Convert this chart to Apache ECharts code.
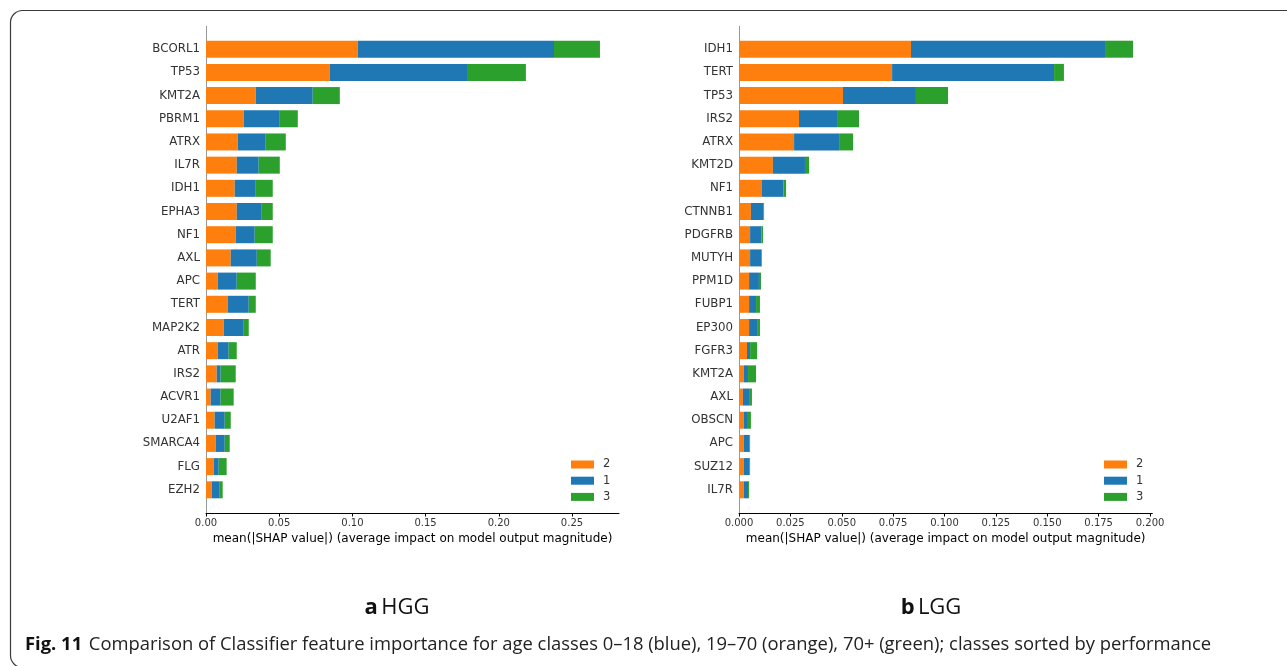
<!DOCTYPE html>
<html>
<head>
<meta charset="utf-8">
<script src="https://cdn.jsdelivr.net/npm/echarts@6/dist/echarts.min.js"></script>
<style>
html,body{margin:0;padding:0;background:#fff;}
#chart{width:1287px;height:666px;}
</style>
</head>
<body>
<div id="chart"></div>
<script>
// ---- HGG (panel a) ----
var hggGenes = ['BCORL1','TP53','KMT2A','PBRM1','ATRX','IL7R','IDH1','EPHA3','NF1','AXL','APC','TERT','MAP2K2','ATR','IRS2','ACVR1','U2AF1','SMARCA4','FLG','EZH2'];
var hggClass2 = [0.1037,0.0846,0.0340,0.0258,0.0217,0.0210,0.0196,0.0210,0.0203,0.0169,0.0080,0.0148,0.0121,0.0080,0.0073,0.0032,0.0059,0.0066,0.0053,0.0039];
var hggClass1 = [0.1340,0.0943,0.0389,0.0246,0.0191,0.0150,0.0144,0.0171,0.0130,0.0178,0.0130,0.0144,0.0137,0.0075,0.0027,0.0068,0.0069,0.0062,0.0034,0.0055];
var hggClass3 = [0.0314,0.0396,0.0185,0.0123,0.0137,0.0144,0.0116,0.0075,0.0123,0.0095,0.0130,0.0048,0.0034,0.0055,0.0103,0.0089,0.0041,0.0034,0.0054,0.0020];
var hggTicks = [0, 0.05, 0.10, 0.15, 0.20, 0.25];

// ---- LGG (panel b) ----
var lggGenes = ['IDH1','TERT','TP53','IRS2','ATRX','KMT2D','NF1','CTNNB1','PDGFRB','MUTYH','PPM1D','FUBP1','EP300','FGFR3','KMT2A','AXL','OBSCN','APC','SUZ12','IL7R'];
var lggClass2 = [0.0837,0.0745,0.0506,0.0292,0.0268,0.0165,0.0112,0.0058,0.0054,0.0054,0.0049,0.0049,0.0049,0.0039,0.0024,0.0019,0.0024,0.0024,0.0024,0.0024];
var lggClass1 = [0.0944,0.0788,0.0355,0.0185,0.0219,0.0156,0.0104,0.0060,0.0055,0.0055,0.0048,0.0034,0.0039,0.0015,0.0020,0.0030,0.0015,0.0026,0.0026,0.0020];
var lggClass3 = [0.0136,0.0048,0.0156,0.0107,0.0068,0.0020,0.0013,0.0004,0.0008,0.0003,0.0010,0.0019,0.0014,0.0034,0.0039,0.0014,0.0019,0.0004,0.0004,0.0005];
var lggTicks = [0, 0.025, 0.050, 0.075, 0.100, 0.125, 0.150, 0.175, 0.200];

var classNames = ['2', '1', '3'];
var xAxisName = 'mean(|SHAP value|) (average impact on model output magnitude)';
var panelLabels = [['a', 'HGG'], ['b', 'LGG']];
var captionBold = 'Fig. 11';
var captionText = 'Comparison of Classifier feature importance for age classes 0\u201318 (blue), 19\u201370 (orange), 70+ (green); classes sorted by performance';

var COLORS = {'2': '#ff7f0e', '1': '#1f77b4', '3': '#2ca02c'};
var FONT = 'DejaVu Sans';
var CAPFONT = 'Open Sans';

var G = [
  {left: 206, width: 413, top: 37.6, height: 463.8, max: 0.2821, ticks: hggTicks, dec: 2},
  {left: 739, width: 413.3, top: 37.6, height: 463.8, max: 0.2011, ticks: lggTicks, dec: 3}
];
var PAD = 11.6; // half band: spine extends beyond outer bars

function xAxisFor(i) {
  var g = G[i];
  return {
    type: 'value', gridIndex: i, min: 0, max: g.max,
    interval: g.ticks[1] - g.ticks[0],
    offset: PAD,
    splitLine: {show: false},
    axisLine: {show: true, lineStyle: {color: '#000', width: 1}},
    axisTick: {show: true, length: 3.5, lineStyle: {color: '#000'}, customValues: g.ticks},
    axisLabel: {show: true, fontFamily: FONT, fontSize: 10, color: '#333', margin: 5,
      customValues: g.ticks,
      formatter: function (v) { return Number(v).toFixed(g.dec); }},
    name: xAxisName, nameLocation: 'middle', nameGap: 20,
    nameTextStyle: {fontFamily: FONT, fontSize: 12, color: '#000'}
  };
}
function yAxisFor(i, genes) {
  return {
    type: 'category', gridIndex: i, data: genes, inverse: true,
    axisLine: {show: false}, axisTick: {show: false},
    axisLabel: {fontFamily: FONT, fontSize: 11.8, color: '#333', margin: 6}
  };
}
function seriesFor(i, vals) {
  return classNames.map(function (n, k) {
    return {
      name: n, type: 'bar', stack: 's' + i, xAxisIndex: i, yAxisIndex: i,
      data: vals[k], barWidth: 17, itemStyle: {color: COLORS[n]},
      emphasis: {disabled: true}, animation: false
    };
  });
}
function legendFor(x) {
  return {
    data: classNames, orient: 'vertical', left: x, top: 458.5, padding: 0,
    icon: 'rect', itemWidth: 23, itemHeight: 8, itemGap: 4.2,
    textStyle: {fontFamily: FONT, fontSize: 11.5, color: '#333', lineHeight: 12, padding: [0, 0, 0, 4]},
    selectedMode: false
  };
}

var chart = echarts.init(document.getElementById('chart'), null, {renderer: 'canvas'});

var graphics = [
  {type: 'rect', silent: true, shape: {x: 10.5, y: 10.5, width: 1400, height: 657, r: 12},
   style: {fill: 'none', stroke: '#3a3a3a', lineWidth: 1.2}},
  {type: 'line', silent: true, shape: {x1: G[0].left + 0.5, y1: G[0].top - PAD, x2: G[0].left + 0.5, y2: G[0].top + G[0].height + PAD},
   style: {stroke: '#999', lineWidth: 1}},
  {type: 'line', silent: true, shape: {x1: G[1].left + 0.5, y1: G[1].top - PAD, x2: G[1].left + 0.5, y2: G[1].top + G[1].height + PAD},
   style: {stroke: '#999', lineWidth: 1}},
  {type: 'text', silent: true, x: 397, y: 608,
   style: {text: '{b|' + panelLabels[0][0] + '} {n|' + panelLabels[0][1] + '}', align: 'center', verticalAlign: 'middle',
     rich: {b: {fontFamily: CAPFONT, fontWeight: 'bold', fontSize: 22, fill: '#111'}, n: {fontFamily: CAPFONT, fontSize: 22, fill: '#111'}}}},
  {type: 'text', silent: true, x: 931, y: 608,
   style: {text: '{b|' + panelLabels[1][0] + '} {n|' + panelLabels[1][1] + '}', align: 'center', verticalAlign: 'middle',
     rich: {b: {fontFamily: CAPFONT, fontWeight: 'bold', fontSize: 22, fill: '#111'}, n: {fontFamily: CAPFONT, fontSize: 22, fill: '#111'}}}},
  {type: 'text', silent: true, x: 25, y: 645,
   style: {text: '{b|' + captionBold + '}  {n|' + captionText + '}', align: 'left', verticalAlign: 'middle',
     rich: {b: {fontFamily: CAPFONT, fontWeight: 'bold', fontSize: 18.4, fill: '#111'}, n: {fontFamily: CAPFONT, fontSize: 18.4, fill: '#222'}}}}
];

chart.setOption({
  animation: false,
  backgroundColor: '#fff',
  grid: G.map(function (g) { return {left: g.left, width: g.width, top: g.top, height: g.height, containLabel: false}; }),
  xAxis: [xAxisFor(0), xAxisFor(1)],
  yAxis: [yAxisFor(0, hggGenes), yAxisFor(1, lggGenes)],
  legend: [legendFor(571), legendFor(1104)],
  series: seriesFor(0, [hggClass2, hggClass1, hggClass3]).concat(seriesFor(1, [lggClass2, lggClass1, lggClass3])),
  graphic: graphics
});
</script>
</body>
</html>
